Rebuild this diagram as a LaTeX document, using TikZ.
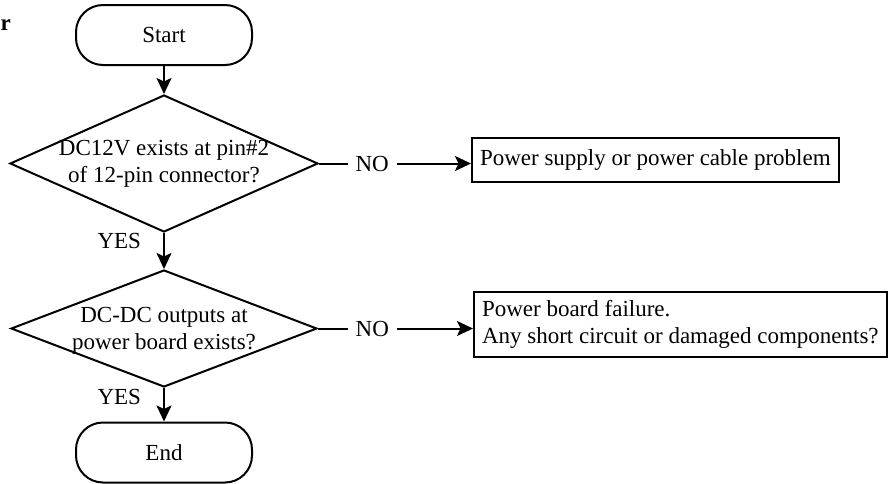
\documentclass[tikz,border=0pt]{standalone}
\usepackage{fontspec}
\setmainfont{Liberation Serif}
\usetikzlibrary{arrows.meta,positioning,shapes.geometric}

\begin{document}
\begin{tikzpicture}[
    x=1pt, y=-1pt,
    font=\fontsize{23}{27}\selectfont,
    terminal/.style={draw, line width=2pt, rounded corners=27pt, minimum width=176pt, minimum height=60pt, inner sep=0pt},
    decision/.style={diamond, draw, line width=2pt, inner sep=0pt, aspect=2.25},
    outcome/.style={draw, line width=2pt, inner xsep=8pt, align=left, anchor=west},
    flow/.style={-{Stealth[length=16pt,width=15pt,inset=3.5pt]}, line width=2pt},
    answer/.style={fill=white, inner xsep=8pt, inner ysep=1pt}
  ]
  \useasboundingbox (0,0) rectangle (888,483);

  % Cut-off heading letter
  \node[font=\fontsize{23}{27}\selectfont\bfseries, anchor=base east, inner sep=0pt] (head) at (11,30) {r};

  % Terminals
  \node[terminal] (start) at (164,35) {Start};
  \node[terminal] (end) at (164,452.5) {End};

  % Decisions
  \node[decision, minimum width=308pt, minimum height=137pt,
        label={[align=center]center:DC12V exists at pin\#2\\of 12-pin connector?}] (dc12) at (164,163.5) {};
  \node[decision, minimum width=306pt, minimum height=117pt,
        label={[align=center, yshift=-2pt]center:DC-DC outputs at\\power board exists?}] (dcdc) at (164,328.5) {};

  % Outcomes
  \node[outcome, minimum height=44pt] (cable) at (471,160) {Power supply or power cable problem};
  \node[outcome, minimum height=65pt] (board) at (473,324.5) {Power board failure.\\Any short circuit or damaged components?};

  % Main flow
  \draw[flow] (start) -- (dc12);
  \draw[flow] (dc12) -- node[pos=0.23, left=22pt, inner sep=0pt] {YES} (dcdc);
  \draw[flow] (dcdc) -- node[pos=0.26, left=22pt, inner sep=0pt] {YES} (end);

  % NO branches
  \draw[flow] (dc12.east) -- node[answer, pos=0.35] {NO} (dc12.east -| cable.west);
  \draw[flow] (dcdc.east) -- node[answer, pos=0.35] {NO} (dcdc.east -| board.west);
\end{tikzpicture}
\end{document}
